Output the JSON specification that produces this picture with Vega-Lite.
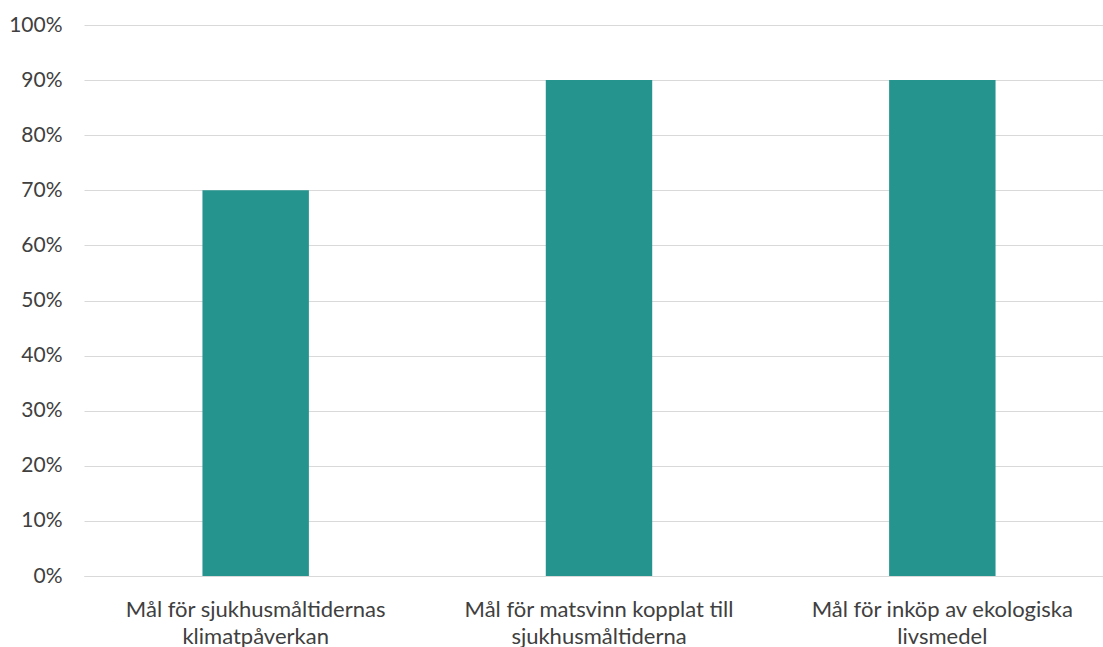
{
  "$schema": "https://vega.github.io/schema/vega-lite/v6.json",
  "width": 1030,
  "height": 551,
  "autosize": {"type": "none"},
  "padding": {"left": 84, "top": 25, "right": 0, "bottom": 71},
  "background": "white",
  "config": {
    "view": {"stroke": null},
    "font": "Lato",
    "axis": {
      "labelFont": "Lato",
      "labelFontSize": 21,
      "labelColor": "#404040",
      "ticks": false,
      "gridColor": "#D9D9D9",
      "gridWidth": 1,
      "domainColor": "#D9D9D9",
      "title": null
    }
  },
  "data": {
    "values": [
      {"mal": "Mål för sjukhusmåltidernas klimatpåverkan", "andel": 0.7},
      {"mal": "Mål för matsvinn kopplat till sjukhusmåltiderna", "andel": 0.9},
      {"mal": "Mål för inköp av ekologiska livsmedel", "andel": 0.9}
    ]
  },
  "mark": {"type": "bar", "color": "#25948F"},
  "encoding": {
    "x": {
      "field": "mal",
      "type": "nominal",
      "sort": null,
      "scale": {"paddingInner": 0.69, "paddingOuter": 0.345},
      "axis": {
        "labelAngle": 0,
        "labelBaseline": "top",
        "labelFontSize": 22,
        "labelPadding": 23,
        "labelLineHeight": 27,
        "labelLimit": 0,
        "labelExpr": "datum.label == 'Mål för sjukhusmåltidernas klimatpåverkan' ? ['Mål för sjukhusmåltidernas', 'klimatpåverkan'] : datum.label == 'Mål för matsvinn kopplat till sjukhusmåltiderna' ? ['Mål för matsvinn kopplat till', 'sjukhusmåltiderna'] : ['Mål för inköp av ekologiska', 'livsmedel']"
      }
    },
    "y": {
      "field": "andel",
      "type": "quantitative",
      "scale": {"domain": [0, 1], "nice": false},
      "axis": {
        "values": [0, 0.1, 0.2, 0.3, 0.4, 0.5, 0.6, 0.7, 0.8, 0.9, 1],
        "format": ".0%",
        "domain": false,
        "labelPadding": 22
      }
    }
  }
}
